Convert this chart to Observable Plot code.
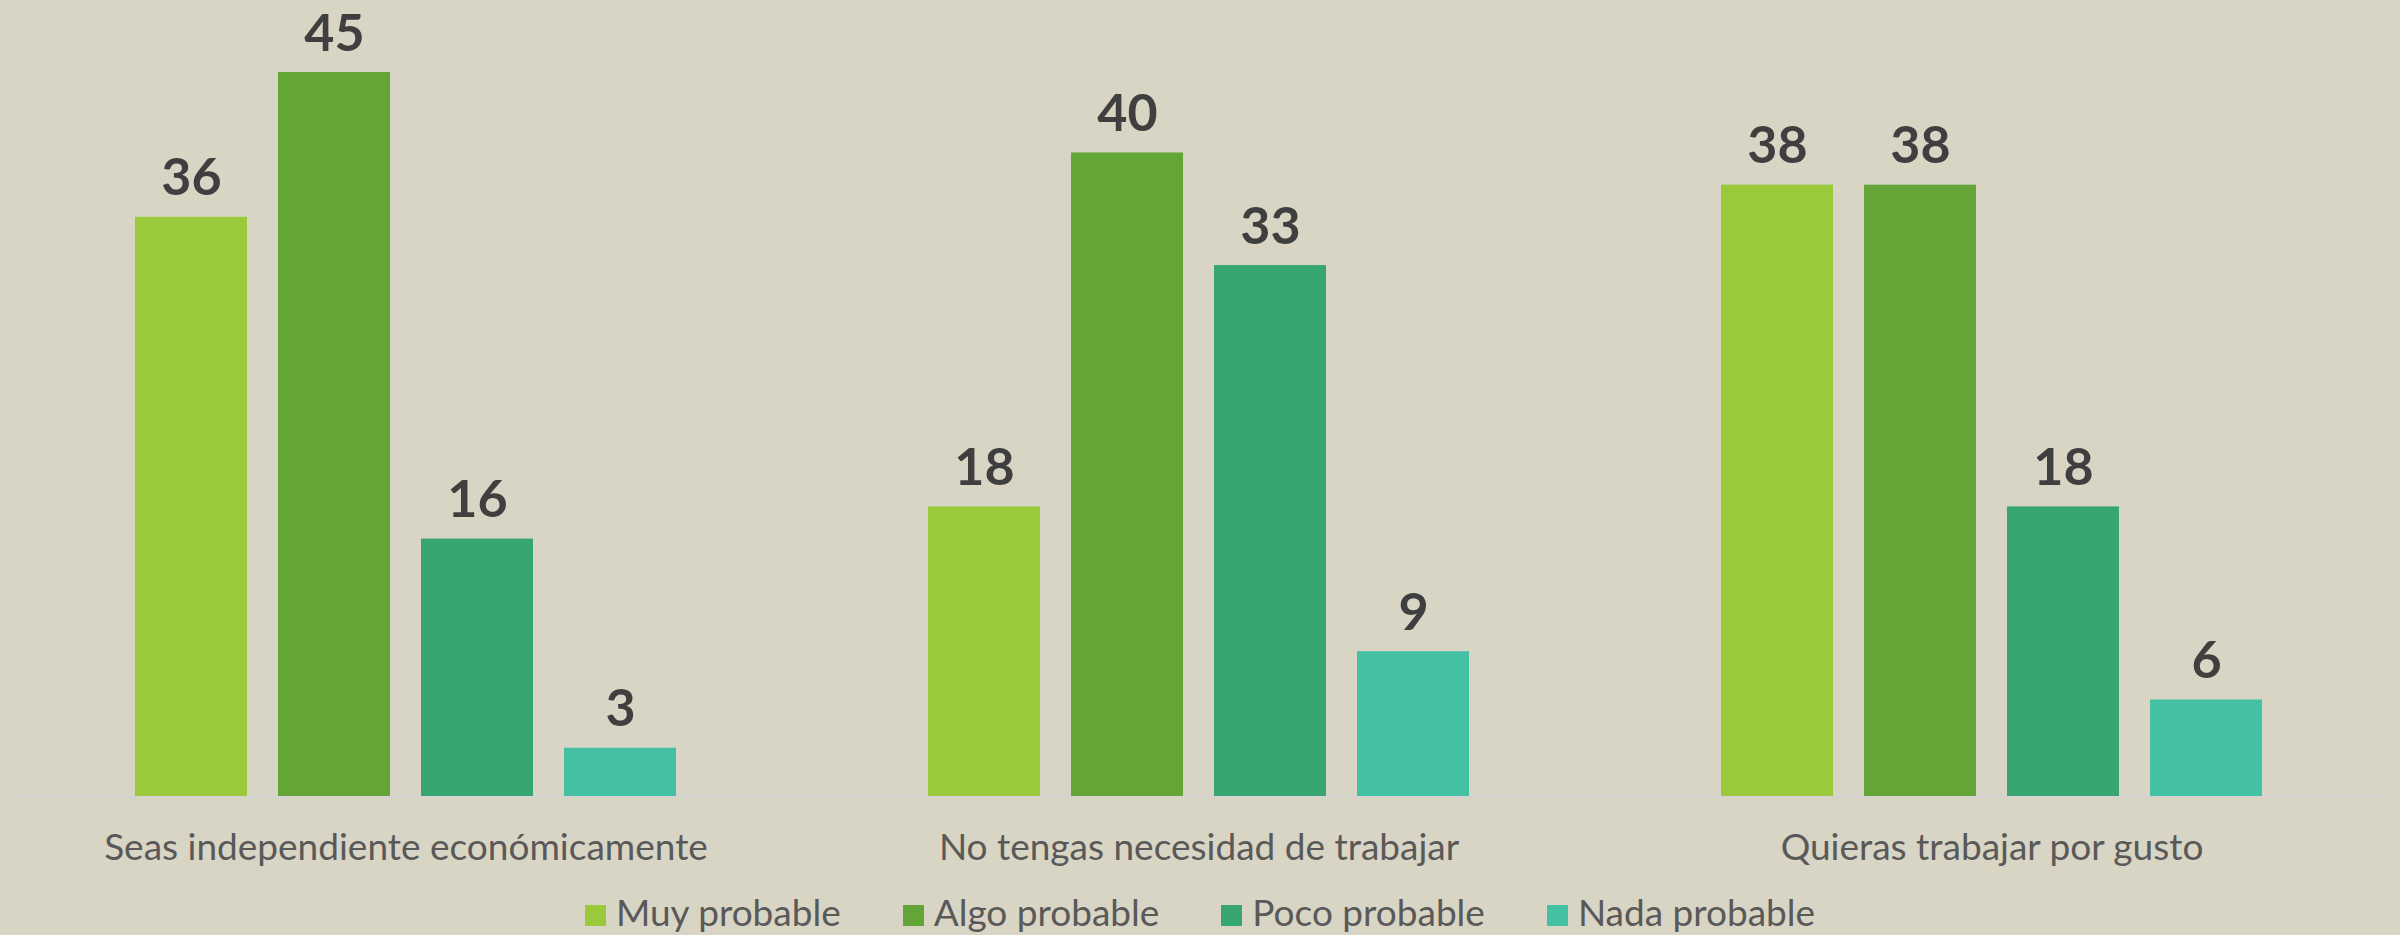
<!DOCTYPE html>
<html><head><meta charset="utf-8">
<script src="https://cdn.jsdelivr.net/npm/d3@7"></script>
<script src="https://cdn.jsdelivr.net/npm/@observablehq/plot@0.6"></script>
<style>
html,body{margin:0;padding:0;background:#D9D5C4;overflow:hidden;}
#legend{margin-top:9px;}
.lg-swatches{justify-content:center !important;font-family:Lato,sans-serif !important;font-size:37px !important;color:#595959 !important;min-height:0 !important;margin:0 !important;}
.lg-swatch{margin-right:62px !important;}
.lg-swatch:last-child{margin-right:0 !important;}
.lg-swatch > svg{margin-right:10px !important;position:relative;top:4px;}
</style></head><body>
<div id="chart"></div><div id="legend"></div>
<script>
const groups = ["Seas independiente económicamente", "No tengas necesidad de trabajar", "Quieras trabajar por gusto"];
const series = ["Muy probable", "Algo probable", "Poco probable", "Nada probable"];
const muy = [36, 18, 38];
const algo = [45, 40, 38];
const poco = [16, 33, 18];
const nada = [3, 9, 6];
const colors = ["#9ACA3C", "#63A537", "#37A76F", "#44C1A4"];
const valuesBySeries = [muy, algo, poco, nada];
const data = groups.flatMap((g, i) => series.map((s, j) => ({group: g, series: s, value: valuesBySeries[j][i]})));

const chart = Plot.plot({
  width: 2400, height: 880,
  marginTop: 72, marginBottom: 84, marginLeft: 9, marginRight: 12,
  style: {background: "transparent", fontFamily: "Lato, sans-serif", fontSize: "37px", color: "#595959"},
  fx: {domain: groups, padding: 0, axis: "bottom", label: null, tickSize: 0, tickPadding: 37},
  x: {domain: series, paddingInner: 0.215, paddingOuter: 0.861, axis: null},
  y: {domain: [0, 45], axis: null},
  color: {domain: series, range: colors},
  marks: [
    Plot.ruleY([0], {stroke: "#d2d2d2", strokeWidth: 2}),
    Plot.barY(data, {fx: "group", x: "series", y: "value", fill: "series"}),
    Plot.text(data, {fx: "group", x: "series", y: "value", text: d => String(d.value), lineAnchor: "bottom", dy: -22, fontSize: 52, fontWeight: "bold", fill: "#3f3f3f"})
  ]
});
document.getElementById("chart").appendChild(chart);
const leg = chart.legend("color", {swatchSize: 21, className: "lg"});
document.getElementById("legend").appendChild(leg);
</script>
</body></html>
